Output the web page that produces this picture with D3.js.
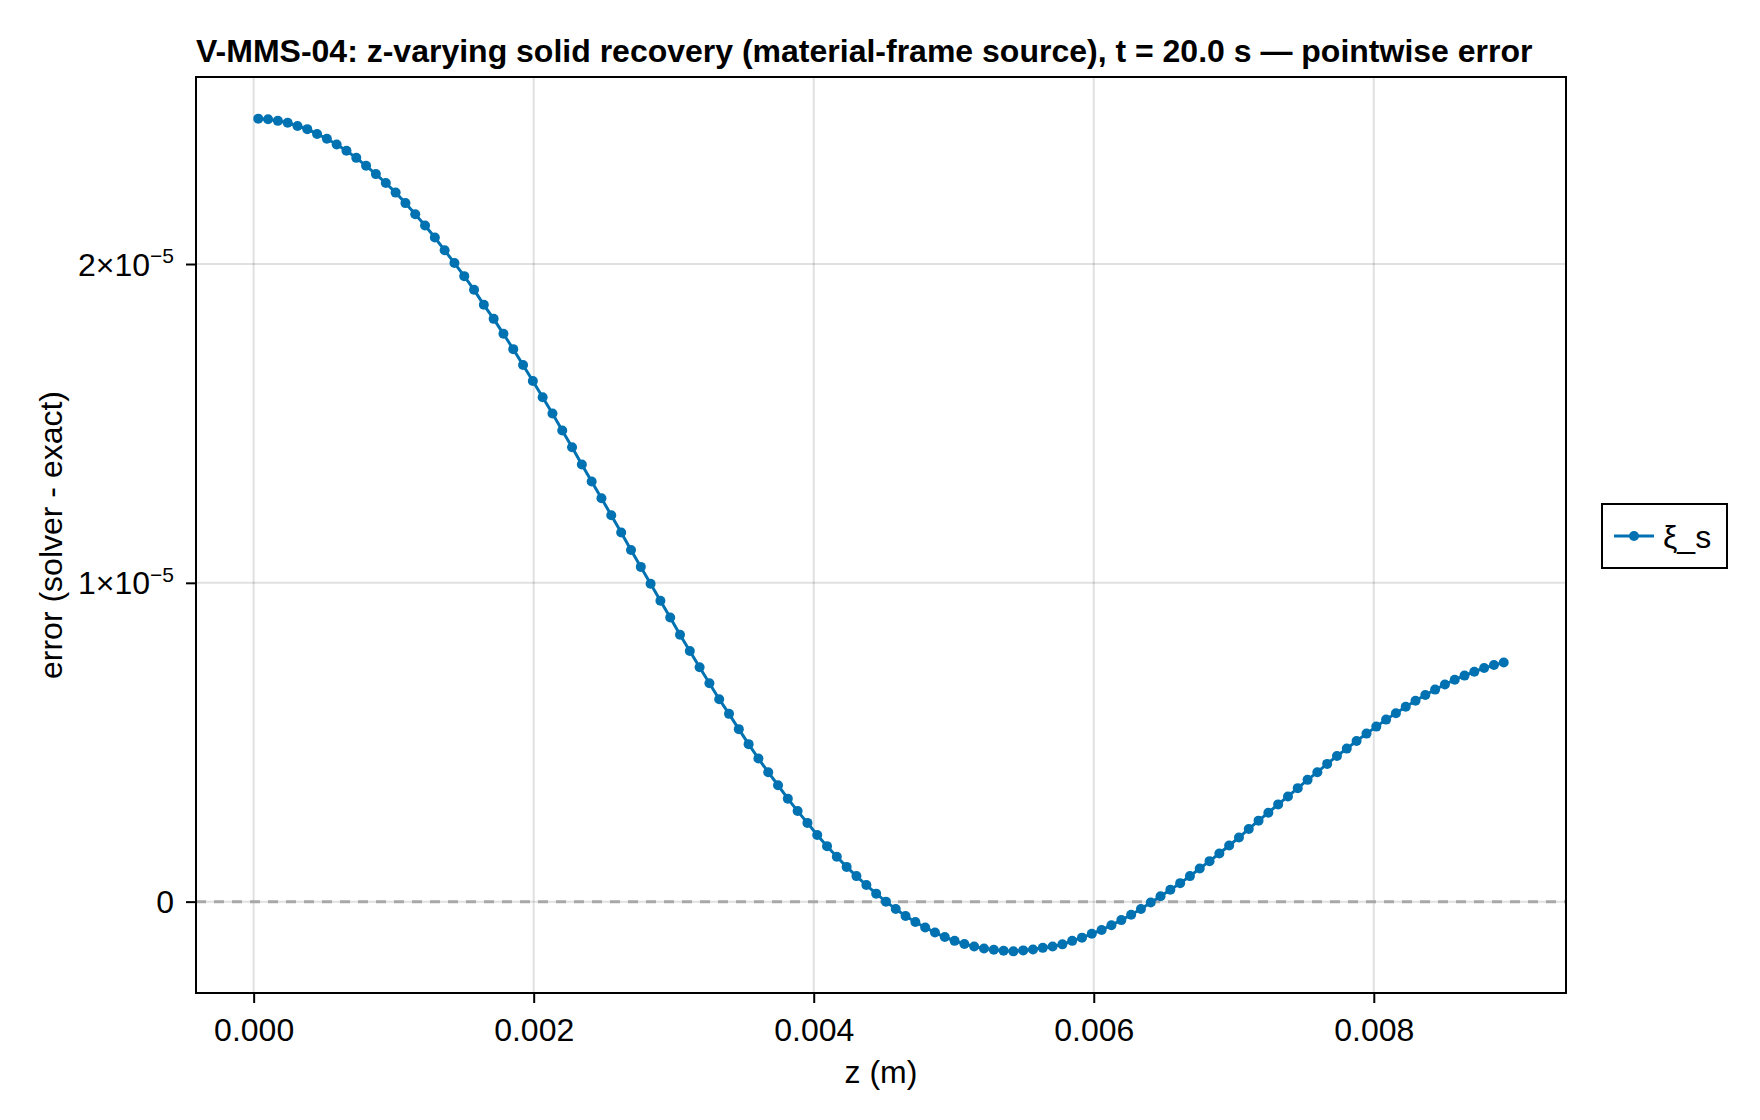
<!DOCTYPE html>
<html lang="en">
<head>
<meta charset="UTF-8"/>
<title>V-MMS-04 pointwise error</title>
<script src="https://d3js.org/d3.v7.min.js"></script>
<style>
  body { margin: 0; background: #fff; }
  svg text { font-family: "Liberation Sans", Arial, Helvetica, sans-serif; fill: #000; }
</style>
</head>
<body>
<script>
var w = 1760, h = 1120;
var plotLeft = 196, plotRight = 1566, plotTop = 77, plotBottom = 993;

// cell-centre positions, in millimetres (axis is drawn in metres)
var zMillimetres = [
  0.033, 0.103, 0.173, 0.243, 0.313, 0.383, 0.453, 0.523, 0.593, 0.663,
  0.733, 0.803, 0.873, 0.944, 1.014, 1.084, 1.154, 1.224, 1.294, 1.364,
  1.434, 1.504, 1.574, 1.644, 1.714, 1.784, 1.854, 1.924, 1.994, 2.064,
  2.134, 2.204, 2.274, 2.344, 2.414, 2.484, 2.554, 2.625, 2.695, 2.765,
  2.835, 2.905, 2.975, 3.045, 3.115, 3.185, 3.255, 3.325, 3.395, 3.465,
  3.535, 3.605, 3.675, 3.745, 3.815, 3.885, 3.955, 4.025, 4.095, 4.165,
  4.235, 4.305, 4.376, 4.446, 4.516, 4.586, 4.656, 4.726, 4.796, 4.866,
  4.936, 5.006, 5.076, 5.146, 5.216, 5.286, 5.356, 5.426, 5.496, 5.566,
  5.636, 5.706, 5.776, 5.846, 5.916, 5.986, 6.056, 6.126, 6.197, 6.267,
  6.337, 6.407, 6.477, 6.547, 6.617, 6.687, 6.757, 6.827, 6.897, 6.967,
  7.037, 7.107, 7.177, 7.247, 7.317, 7.387, 7.457, 7.527, 7.597, 7.667,
  7.737, 7.807, 7.877, 7.948, 8.018, 8.088, 8.158, 8.228, 8.298, 8.368,
  8.438, 8.508, 8.578, 8.648, 8.718, 8.788, 8.858, 8.928
];

// solver - exact, in units of 1e-6
var errorMicro = [
  24.56, 24.54, 24.49, 24.43, 24.33, 24.23, 24.08, 23.93, 23.75, 23.55,
  23.33, 23.08, 22.82, 22.54, 22.24, 21.91, 21.56, 21.21, 20.83, 20.43,
  20.03, 19.62, 19.19, 18.72, 18.28, 17.81, 17.33, 16.83, 16.33, 15.82,
  15.31, 14.78, 14.25, 13.71, 13.18, 12.65, 12.12, 11.58, 11.03, 10.50,
  9.97, 9.44, 8.91, 8.37, 7.86, 7.35, 6.85, 6.35, 5.89, 5.41,
  4.94, 4.49, 4.06, 3.65, 3.23, 2.84, 2.47, 2.09, 1.74, 1.41,
  1.09, 0.80, 0.52, 0.25, 0.00, -0.23, -0.45, -0.64, -0.81, -0.97,
  -1.11, -1.23, -1.33, -1.41, -1.47, -1.51, -1.54, -1.56, -1.53, -1.50,
  -1.45, -1.41, -1.34, -1.23, -1.13, -1.01, -0.89, -0.74, -0.58, -0.41,
  -0.23, -0.03, 0.17, 0.37, 0.58, 0.80, 1.04, 1.27, 1.51, 1.76,
  2.01, 2.28, 2.54, 2.79, 3.05, 3.30, 3.56, 3.82, 4.06, 4.32,
  4.57, 4.80, 5.04, 5.27, 5.49, 5.71, 5.91, 6.11, 6.30, 6.48,
  6.65, 6.81, 6.96, 7.09, 7.21, 7.33, 7.42, 7.50
];

var xTicks = [0, 0.002, 0.004, 0.006, 0.008];
var yTicks = [0, 1e-5, 2e-5];
var seriesName = "ξ_s";
var blue = "#0072b2";

var points = zMillimetres.map(function(z, i) {
    return [z * 1e-3, errorMicro[i] * 1e-6];
});

function padded(ext) {
    var span = ext[1] - ext[0];
    return [ext[0] - 0.05 * span, ext[1] + 0.05 * span];
}

var xScale = d3.scaleLinear()
    .domain(padded(d3.extent(points, d => d[0])))
    .range([plotLeft, plotRight]);

var yScale = d3.scaleLinear()
    .domain(padded(d3.extent(points, d => d[1])))
    .range([plotBottom, plotTop]);

var svg = d3.select("body").append("svg")
    .attr("width", w)
    .attr("height", h);

svg.append("rect").attr("width", w).attr("height", h).attr("fill", "#fff");

/* grid */
svg.append("g").selectAll("line")
    .data(xTicks).enter().append("line")
    .attr("x1", d => xScale(d)).attr("x2", d => xScale(d))
    .attr("y1", plotTop).attr("y2", plotBottom)
    .attr("stroke", "#000").attr("stroke-opacity", 0.12).attr("stroke-width", 2);

svg.append("g").selectAll("line")
    .data(yTicks).enter().append("line")
    .attr("x1", plotLeft).attr("x2", plotRight)
    .attr("y1", d => yScale(d)).attr("y2", d => yScale(d))
    .attr("stroke", "#000").attr("stroke-opacity", 0.12).attr("stroke-width", 2);

/* zero reference */
svg.append("line")
    .attr("x1", plotLeft).attr("x2", plotRight)
    .attr("y1", yScale(0)).attr("y2", yScale(0))
    .attr("stroke", "#a8a8a8").attr("stroke-width", 3)
    .attr("stroke-dasharray", "10,8");

/* series */
svg.append("path")
    .datum(points)
    .attr("fill", "none")
    .attr("stroke", blue)
    .attr("stroke-width", 3)
    .attr("d", d3.line().x(d => xScale(d[0])).y(d => yScale(d[1])));

svg.append("g").selectAll("circle")
    .data(points).enter().append("circle")
    .attr("cx", d => xScale(d[0]))
    .attr("cy", d => yScale(d[1]))
    .attr("r", 5)
    .attr("fill", blue);

/* frame */
svg.append("rect")
    .attr("x", plotLeft).attr("y", plotTop)
    .attr("width", plotRight - plotLeft).attr("height", plotBottom - plotTop)
    .attr("fill", "none").attr("stroke", "#000").attr("stroke-width", 2);

/* axes */
var xAxis = svg.append("g")
    .attr("transform", "translate(0," + plotBottom + ")")
    .call(d3.axisBottom(xScale).tickValues(xTicks).tickSize(10).tickFormat(d3.format(".3f")));
xAxis.select(".domain").remove();
xAxis.selectAll(".tick line").attr("stroke-width", 2);
xAxis.selectAll(".tick text")
    .attr("y", 48).attr("dy", null)
    .attr("font-size", 32)
    .attr("font-family", null);

var yAxis = svg.append("g")
    .attr("transform", "translate(" + plotLeft + ",0)")
    .call(d3.axisLeft(yScale).tickValues(yTicks).tickSize(10).tickFormat(""));
yAxis.select(".domain").remove();
yAxis.selectAll(".tick line").attr("stroke-width", 2);
yAxis.selectAll(".tick text").each(function(d) {
    var t = d3.select(this)
        .attr("x", -22).attr("y", 11).attr("dy", null)
        .attr("font-size", 32)
        .attr("font-family", null)
        .attr("text-anchor", "end");
    if (d === 0) {
        t.text("0");
    } else {
        var exp = Math.floor(Math.log10(d) + 1e-9);
        var mant = Math.round(d / Math.pow(10, exp));
        t.append("tspan").text(mant + "×10");
        t.append("tspan").attr("font-size", 21).attr("dy", -12.8).text("−" + Math.abs(exp));
    }
});

/* titles */
svg.append("text")
    .attr("x", plotLeft).attr("y", 62)
    .attr("font-size", 32).attr("font-weight", "bold")
    .text("V-MMS-04: z-varying solid recovery (material-frame source), t = 20.0 s — pointwise error");

svg.append("text")
    .attr("x", (plotLeft + plotRight) / 2).attr("y", 1083)
    .attr("text-anchor", "middle").attr("font-size", 32)
    .text("z (m)");

svg.append("text")
    .attr("transform", "translate(62," + (plotTop + plotBottom) / 2 + ") rotate(-90)")
    .attr("text-anchor", "middle").attr("font-size", 32)
    .text("error (solver - exact)");

/* legend */
var legend = svg.append("g").attr("transform", "translate(1602,504)");
legend.append("rect")
    .attr("width", 125).attr("height", 64)
    .attr("fill", "#fff").attr("stroke", "#000").attr("stroke-width", 2);
legend.append("line")
    .attr("x1", 12).attr("x2", 52).attr("y1", 32).attr("y2", 32)
    .attr("stroke", blue).attr("stroke-width", 3);
legend.append("circle").attr("cx", 32).attr("cy", 32).attr("r", 5).attr("fill", blue);
legend.append("text")
    .attr("x", 61).attr("y", 44).attr("font-size", 32)
    .text(seriesName);
</script>
</body>
</html>
